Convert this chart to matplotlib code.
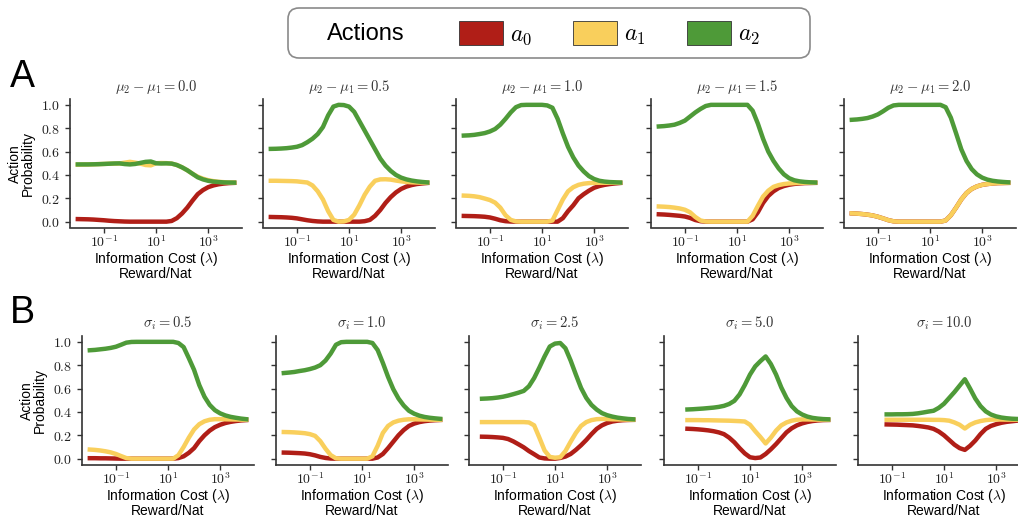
import numpy as np
import matplotlib.pyplot as plt
from matplotlib.patches import Patch, FancyBboxPatch
from matplotlib.ticker import FixedLocator, FuncFormatter, NullLocator

plt.rcParams['font.family'] = ['Liberation Sans', 'DejaVu Sans']
plt.rcParams['mathtext.fontset'] = 'cm'

nan = np.nan

# information cost grid (reward / nat)
lam = np.logspace(-2, 4, 31)

mu_diffs = [0.0, 0.5, 1.0, 1.5, 2.0]
sigmas = [0.5, 1.0, 2.5, 5.0, 10.0]

action_labels = [r'$a_0$', r'$a_1$', r'$a_2$']
colors = ['#b01e17', '#f9cf5c', '#4e9a38']

# row A: action probabilities for each mean difference
mu_a0 = [
    [0.022, 0.021, 0.020, 0.018, 0.015, 0.012, 0.008, 0.005, 0.003, 0.001, 0, 0, 0, 0, 0, 0,
     0, 0, 0.006, 0.03, 0.07, 0.12, 0.18, 0.235, 0.27, 0.295, 0.31, 0.32, 0.326, 0.33, 0.332],
    [0.040, 0.039, 0.038, 0.036, 0.033, 0.028, 0.020, 0.012, 0.006, 0.002, 0, 0, 0, 0, 0, 0,
     0, 0, 0.004, 0.015, 0.05, 0.10, 0.16, 0.21, 0.25, 0.28, 0.30, 0.313, 0.322, 0.327, 0.331],
    [0.049, 0.048, 0.047, 0.045, 0.042, 0.036, 0.025, 0.012, 0.004, 0.001, 0, 0, 0, 0, 0, 0,
     0, 0, 0.0, 0.03, 0.09, 0.14, 0.2, 0.235, 0.265, 0.29, 0.305, 0.315, 0.322, 0.327, 0.331],
    [0.063, 0.061, 0.058, 0.054, 0.050, 0.044, 0.032, 0.014, 0.004, 0, 0, 0, 0, 0, 0, 0,
     0, 0, 0.02, 0.08, 0.16, 0.22, 0.26, 0.288, 0.305, 0.316, 0.323, 0.327, 0.330, 0.331, 0.332],
    [0.071, 0.069, 0.065, 0.060, 0.053, 0.042, 0.028, 0.013, 0.003, 0, 0, 0, 0, 0, 0, 0,
     0, 0, 0.010, 0.055, 0.120, 0.190, 0.245, 0.280, 0.302, 0.315, 0.322, 0.327, 0.330, 0.331, 0.332],
]
mu_a1 = [
    [0.488, 0.489, 0.490, 0.491, 0.493, 0.494, 0.496, 0.497, 0.498, 0.505, 0.512, 0.505, 0.497, 0.485, 0.482, 0.500,
     0.502, 0.501, 0.497, 0.485, 0.465, 0.440, 0.410, 0.385, 0.368, 0.355, 0.347, 0.341, 0.338, 0.335, 0.334],
    [0.350, 0.350, 0.349, 0.348, 0.347, 0.345, 0.340, 0.335, 0.310, 0.260, 0.190, 0.090, 0.015, 0.0, 0.002, 0.015,
     0.060, 0.140, 0.230, 0.300, 0.350, 0.362, 0.363, 0.360, 0.352, 0.345, 0.340, 0.337, 0.335, 0.334, 0.333],
    [0.223, 0.221, 0.217, 0.210, 0.198, 0.185, 0.163, 0.120, 0.055, 0.015, 0.002, 0, 0, 0, 0, 0,
     0, 0.010, 0.100, 0.190, 0.260, 0.295, 0.315, 0.325, 0.330, 0.332, 0.333, 0.333, 0.333, 0.333, 0.333],
    [0.130, 0.128, 0.125, 0.120, 0.113, 0.102, 0.080, 0.040, 0.010, 0.001, 0, 0, 0, 0, 0, 0,
     0, 0, 0.050, 0.135, 0.215, 0.265, 0.298, 0.313, 0.322, 0.327, 0.330, 0.332, 0.333, 0.333, 0.333],
    [0.071, 0.069, 0.065, 0.060, 0.053, 0.042, 0.028, 0.013, 0.003, 0, 0, 0, 0, 0, 0, 0,
     0, 0, 0.010, 0.055, 0.120, 0.190, 0.245, 0.280, 0.302, 0.315, 0.322, 0.327, 0.330, 0.331, 0.332],
]
mu_a2 = [
    [0.490, 0.490, 0.490, 0.491, 0.492, 0.494, 0.496, 0.498, 0.499, 0.493, 0.490, 0.494, 0.503, 0.512, 0.515, 0.500,
     0.498, 0.499, 0.497, 0.485, 0.465, 0.440, 0.410, 0.380, 0.362, 0.350, 0.343, 0.339, 0.336, 0.335, 0.334],
    [0.623, 0.624, 0.626, 0.629, 0.634, 0.641, 0.655, 0.680, 0.710, 0.750, 0.810, 0.910, 0.985, 1.0, 0.998, 0.985,
     0.940, 0.860, 0.780, 0.700, 0.620, 0.540, 0.480, 0.435, 0.400, 0.377, 0.362, 0.352, 0.345, 0.340, 0.336],
    [0.737, 0.739, 0.743, 0.750, 0.758, 0.772, 0.793, 0.830, 0.880, 0.935, 0.980, 0.998, 1.0, 1.0, 1.0, 1.0,
     0.995, 0.975, 0.880, 0.755, 0.640, 0.550, 0.480, 0.430, 0.390, 0.365, 0.350, 0.343, 0.339, 0.337, 0.335],
    [0.815, 0.818, 0.823, 0.830, 0.845, 0.865, 0.900, 0.935, 0.965, 0.990, 1.0, 1.0, 1.0, 1.0, 1.0, 1.0,
     1.0, 1.0, 0.950, 0.840, 0.710, 0.600, 0.520, 0.455, 0.405, 0.372, 0.354, 0.345, 0.340, 0.337, 0.335],
    [0.872, 0.875, 0.880, 0.887, 0.900, 0.918, 0.945, 0.975, 0.995, 1.0, 1.0, 1.0, 1.0, 1.0, 1.0, 1.0,
     1.0, 1.0, 0.980, 0.890, 0.757, 0.620, 0.520, 0.450, 0.405, 0.377, 0.360, 0.350, 0.344, 0.340, 0.337],
]

# row B: action probabilities for each observation noise level
sig_a0 = [
    [0.004, 0.004, 0.003, 0.003, 0.002, 0.001, 0, 0, 0, 0, 0, 0, 0, 0, 0, 0,
     0, 0.005, 0.020, 0.050, 0.090, 0.150, 0.200, 0.240, 0.270, 0.290, 0.305, 0.315, 0.322, 0.327, 0.330],
    [0.052, 0.051, 0.049, 0.047, 0.044, 0.038, 0.028, 0.015, 0.006, 0.001, 0, 0, 0, 0, 0, 0,
     0, 0, 0.010, 0.040, 0.090, 0.145, 0.200, 0.245, 0.280, 0.300, 0.313, 0.321, 0.326, 0.329, 0.331],
    [nan, 0.188, 0.187, 0.185, 0.182, 0.178, 0.168, 0.148, 0.123, 0.097, 0.065, 0.038, 0.010, 0.002, 0.0, 0.0,
     0.006, 0.018, 0.040, 0.075, 0.115, 0.160, 0.210, 0.255, 0.285, 0.305, 0.318, 0.325, 0.329, 0.331, 0.332],
    [nan, nan, nan, 0.256, 0.254, 0.251, 0.247, 0.242, 0.235, 0.225, 0.210, 0.180, 0.140, 0.090, 0.045, 0.012,
     0.005, 0.010, 0.040, 0.080, 0.125, 0.175, 0.225, 0.260, 0.285, 0.302, 0.314, 0.322, 0.327, 0.330, 0.331],
    [nan, nan, nan, nan, 0.293, 0.292, 0.291, 0.289, 0.287, 0.285, 0.280, 0.274, 0.267, 0.255, 0.232, 0.200,
     0.160, 0.120, 0.090, 0.075, 0.110, 0.155, 0.210, 0.255, 0.280, 0.295, 0.307, 0.315, 0.320, 0.325, 0.328],
]
sig_a1 = [
    [0.078, 0.075, 0.070, 0.063, 0.054, 0.040, 0.022, 0.005, 0, 0, 0, 0, 0, 0, 0, 0,
     0, 0.030, 0.100, 0.180, 0.250, 0.295, 0.320, 0.333, 0.338, 0.338, 0.337, 0.336, 0.335, 0.334, 0.333],
    [0.228, 0.227, 0.225, 0.222, 0.218, 0.210, 0.195, 0.150, 0.085, 0.030, 0.003, 0, 0, 0, 0, 0,
     0, 0.020, 0.110, 0.220, 0.280, 0.310, 0.325, 0.333, 0.337, 0.337, 0.336, 0.335, 0.334, 0.333, 0.333],
    [nan, 0.313, 0.313, 0.313, 0.313, 0.313, 0.313, 0.313, 0.313, 0.313, 0.310, 0.285, 0.180, 0.070, 0.015, 0.008,
     0.012, 0.065, 0.145, 0.220, 0.280, 0.313, 0.330, 0.338, 0.340, 0.339, 0.337, 0.336, 0.335, 0.334, 0.333],
    [nan, nan, nan, 0.330, 0.330, 0.330, 0.329, 0.329, 0.328, 0.327, 0.326, 0.325, 0.323, 0.321, 0.318, 0.290,
     0.235, 0.185, 0.130, 0.180, 0.240, 0.285, 0.310, 0.325, 0.333, 0.336, 0.336, 0.335, 0.334, 0.334, 0.333],
    [nan, nan, nan, nan, 0.333, 0.333, 0.333, 0.333, 0.333, 0.333, 0.333, 0.333, 0.333, 0.332, 0.332, 0.330,
     0.325, 0.310, 0.290, 0.258, 0.290, 0.310, 0.322, 0.330, 0.334, 0.335, 0.335, 0.334, 0.334, 0.333, 0.333],
]
sig_a2 = [
    [0.928, 0.931, 0.936, 0.941, 0.948, 0.958, 0.975, 0.993, 0.999, 1.0, 1.0, 1.0, 1.0, 1.0, 1.0, 1.0,
     1.0, 0.990, 0.955, 0.860, 0.760, 0.630, 0.530, 0.460, 0.415, 0.388, 0.370, 0.358, 0.350, 0.343, 0.338],
    [0.733, 0.737, 0.742, 0.750, 0.757, 0.767, 0.780, 0.800, 0.840, 0.900, 0.975, 0.997, 1.0, 1.0, 1.0, 1.0,
     1.0, 0.990, 0.930, 0.820, 0.700, 0.595, 0.515, 0.455, 0.410, 0.385, 0.368, 0.357, 0.350, 0.345, 0.341],
    [nan, 0.513, 0.515, 0.518, 0.523, 0.530, 0.540, 0.552, 0.565, 0.580, 0.620, 0.690, 0.780, 0.875, 0.960, 0.985,
     0.990, 0.945, 0.840, 0.720, 0.605, 0.520, 0.460, 0.420, 0.390, 0.372, 0.360, 0.351, 0.345, 0.340, 0.337],
    [nan, nan, nan, 0.421, 0.423, 0.426, 0.429, 0.433, 0.437, 0.443, 0.452, 0.468, 0.495, 0.550, 0.630, 0.720,
     0.790, 0.835, 0.875, 0.810, 0.720, 0.610, 0.520, 0.450, 0.405, 0.378, 0.360, 0.349, 0.343, 0.339, 0.337],
    [nan, nan, nan, nan, 0.379, 0.379, 0.380, 0.380, 0.381, 0.383, 0.388, 0.395, 0.403, 0.410, 0.435, 0.470,
     0.520, 0.570, 0.625, 0.680, 0.600, 0.515, 0.450, 0.405, 0.378, 0.362, 0.352, 0.346, 0.342, 0.340, 0.338],
]

W, H = 1018, 517
fig = plt.figure(figsize=(W / 100, H / 100), dpi=100)

# panel placement in pixels (left edges per row, top edge per row)
lefts = [[70, 263, 456, 651, 844], [82, 276, 469, 664, 858]]
tops = [99, 336]
pw, ph = 172, 128.5

rows = [
    (mu_a0, mu_a1, mu_a2, [r'$\mu_2 - \mu_1 = %.1f$' % d for d in mu_diffs]),
    (sig_a0, sig_a1, sig_a2, [r'$\sigma_i = %.1f$' % s for s in sigmas]),
]

axis_col = '#333333'
for r, (a0, a1, a2, titles) in enumerate(rows):
    for c in range(5):
        ax = fig.add_axes([lefts[r][c] / W, 1 - (tops[r] + ph) / H, pw / W, ph / H])
        for probs, col in zip((a0[c], a1[c], a2[c]), colors):
            ax.plot(lam, probs, color=col, lw=3.2)
        ax.set_xscale('log')
        ax.set_xlim(10 ** -2.3, 10 ** 4.3)
        ax.set_ylim(-0.05, 1.05)
        ax.xaxis.set_major_locator(FixedLocator([1e-1, 1e1, 1e3]))
        ax.xaxis.set_minor_locator(NullLocator())
        ax.xaxis.set_major_formatter(
            FuncFormatter(lambda v, _: r'$10^{%d}$' % round(np.log10(v))))
        ax.set_yticks([0.0, 0.2, 0.4, 0.6, 0.8, 1.0])
        if c == 0:
            ax.yaxis.set_major_formatter(FuncFormatter(lambda v, _: r'$%.1f$' % v))
            ax.set_ylabel('Action\nProbability', fontsize=10, labelpad=4,
                          linespacing=0.95)
        else:
            ax.set_yticklabels([])
        for side in ('top', 'right'):
            ax.spines[side].set_visible(False)
        for side in ('left', 'bottom'):
            ax.spines[side].set_color(axis_col)
            ax.spines[side].set_linewidth(1.2)
        ax.tick_params(length=3.5, width=1, color=axis_col, labelsize=10,
                       labelcolor='#222222')
        ax.tick_params(axis='x', pad=1.5)
        ax.tick_params(axis='y', pad=3.5)
        ax.set_title(titles[c], fontsize=10.5, pad=6, color='#333333')
        ax.set_xlabel('Information Cost ($\\lambda$)\nReward/Nat', fontsize=10,
                      labelpad=0, linespacing=0.9)

# legend box across the top
box = FancyBboxPatch((288 / W, 1 - 58 / H), 522 / W, 50 / H,
                     boxstyle='round,pad=0,rounding_size=%f' % (11 / W),
                     mutation_aspect=W / H, transform=fig.transFigure,
                     facecolor='white', edgecolor='#8a8a8a', linewidth=1.2)
fig.add_artist(box)
fig.text(327 / W, 1 - 34 / H, 'Actions', fontsize=17, ha='left', va='center')
handles = [Patch(facecolor=col, edgecolor='#333333', linewidth=0.6) for col in colors]
fig.legend(handles, action_labels, loc='center left', bbox_to_anchor=(459 / W, 1 - 34 / H),
           ncol=3, frameon=False, fontsize=17, borderpad=0, borderaxespad=0,
           handlelength=1.86, handleheight=1.15, handletextpad=0.3, columnspacing=1.74)

fig.text(10 / W, 1 - 77 / H, 'A', fontsize=27, ha='left', va='center')
fig.text(10 / W, 1 - 313 / H, 'B', fontsize=27, ha='left', va='center')

fig.savefig('out.png', dpi=100)
